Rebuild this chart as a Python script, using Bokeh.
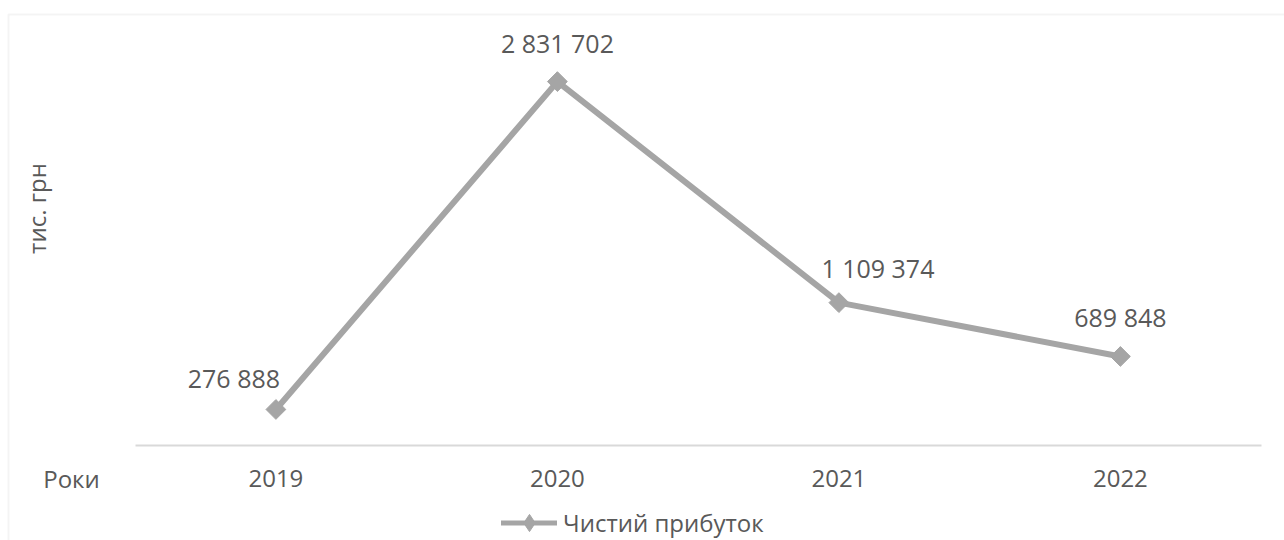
import math
from bokeh.plotting import figure
from bokeh.models import (Range1d, Label, Legend, LegendItem, BoxAnnotation,
                          ColumnDataSource, FixedTicker)
from bokeh.core.properties import value
from bokeh.embed import file_html
from bokeh.resources import INLINE

# ---- data ----
years = ["2019", "2020", "2021", "2022"]
net_profit = [276888, 2831702, 1109374, 689848]
series_name = "Чистий прибуток"
y_axis_title = "тис. грн"
x_axis_title = "Роки"
y_axis_max = 3000000

# ---- layout / style ----
W, H = 1284, 540
CAT0_PX, CAT_STEP = 275.4, 281.5      # pixel centre of first category, category width
ZERO_PX, TOP_PX = 444.5, 59.5          # pixel rows of 0 and of the axis maximum
label_dx = [-42, 0, 39, 0]
label_dy = [-31, -39, -35, -39]

FONT = "Open Sans"
TEXT_COLOR = "#595959"
LINE_COLOR = "#A5A5A5"
GRID_COLOR = "#D9D9D9"

xs = list(range(len(years)))
labels = ["{:,}".format(v).replace(",", " ") for v in net_profit]
src = ColumnDataSource(dict(x=xs, y=net_profit, t=labels, dx=label_dx, dy=label_dy))

k = (ZERO_PX - TOP_PX) / y_axis_max   # px per unit
x_range = Range1d(-CAT0_PX / CAT_STEP, (W - CAT0_PX) / CAT_STEP)
y_range = Range1d(-(H - ZERO_PX) / k, ZERO_PX / k)

p = figure(width=W, height=H, output_backend="svg", toolbar_location=None,
           x_range=x_range, y_range=y_range, y_axis_location=None,
           min_border=0, min_border_left=0, min_border_right=0,
           min_border_top=0, min_border_bottom=0)
p.outline_line_color = None
p.grid.visible = False
p.background_fill_color = "white"
p.border_fill_color = "white"

ax = p.xaxis[0]
ax.fixed_location = 0
ax.bounds = (-0.5, len(years) - 0.5)
ax.ticker = FixedTicker(ticks=xs)
ax.major_label_overrides = {i: y for i, y in zip(xs, years)}
ax.axis_line_color = GRID_COLOR
ax.axis_line_width = 2
ax.major_tick_line_color = None
ax.minor_tick_line_color = None
ax.major_label_text_font = FONT
ax.major_label_text_font_size = "24px"
ax.major_label_text_color = TEXT_COLOR
ax.major_label_standoff = 19

line_r = p.line("x", "y", source=src, line_color=LINE_COLOR, line_width=6)
sc_r = p.scatter("x", "y", source=src, marker="square", size=14, angle=math.pi / 4,
                 fill_color=LINE_COLOR, line_color=LINE_COLOR)

# legend-only glyphs (a single non-drawn NaN point): line with a diamond
nan_src = ColumnDataSource(dict(x=[float("nan")], y=[float("nan")]))
leg_line = p.line("x", "y", source=nan_src, line_color=LINE_COLOR, line_width=5,
                  line_cap="round")
leg_mark = p.scatter("x", "y", source=nan_src, marker="diamond", size=18,
                     fill_color=LINE_COLOR, line_color=LINE_COLOR)

p.text("x", "y", text="t", source=src, x_offset="dx", y_offset="dy",
       text_font=value(FONT), text_font_size="25px", text_color=TEXT_COLOR,
       text_align="center", text_baseline="middle")

# axis titles
p.add_layout(Label(x=71, y=H - 478, x_units="screen", y_units="screen", text=x_axis_title,
                   text_font=FONT, text_font_size="24px", text_color=TEXT_COLOR,
                   text_align="center", text_baseline="middle"))
p.add_layout(Label(x=36, y=H - 208, x_units="screen", y_units="screen", text=y_axis_title,
                   angle=math.pi / 2, text_font=FONT, text_font_size="24px",
                   text_color=TEXT_COLOR, text_align="center", text_baseline="middle"))

# chart-area border (top & left edges)
p.add_layout(BoxAnnotation(left=8, right=W + 20, top=H - 14, bottom=-20,
                           left_units="screen", right_units="screen",
                           top_units="screen", bottom_units="screen",
                           fill_color=None, line_color=GRID_COLOR, line_width=2))

legend = Legend(items=[LegendItem(label=series_name, renderers=[leg_line, leg_mark])],
                location=(501, -4), orientation="horizontal",
                glyph_width=56, glyph_height=43, label_standoff=6,
                label_text_font=FONT, label_text_font_size="24px",
                label_text_color=TEXT_COLOR, padding=0, margin=0,
                border_line_color=None, background_fill_alpha=0)
p.add_layout(legend)

open("out.html", "w").write(file_html(p, INLINE))
